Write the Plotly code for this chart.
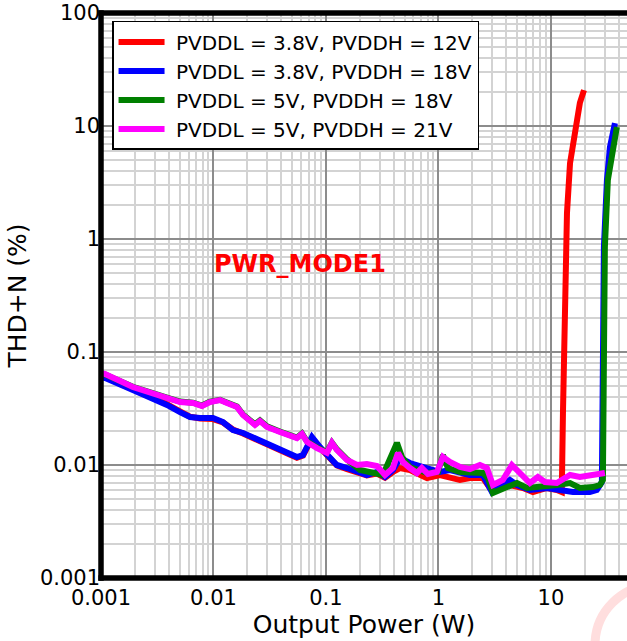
import math
import plotly.graph_objects as go

# ---------------- data (Output Power in W, THD+N in %) ----------------
red_p = [0.001, 0.00109, 0.00192, 0.0029, 0.00386, 0.00504, 0.00618, 0.00759, 0.0099, 0.01215,
         0.0149, 0.0183, 0.0275, 0.039, 0.0552, 0.0625, 0.0751, 0.0885, 0.102, 0.125,
         0.154, 0.189, 0.231, 0.284, 0.335, 0.394, 0.455, 0.558, 0.791, 1.031,
         1.265, 1.553, 1.905, 2.487, 2.87, 3.52, 4.32, 5.64, 6.92, 9.21,
         11.3, 12.5, 12.8, 13.3, 13.9, 14.8, 16.3, 18.1, 19.7]
red_thd = [0.0612, 0.0598, 0.0468, 0.0396, 0.0345, 0.0298, 0.0268, 0.0258, 0.0255, 0.0238,
           0.0206, 0.0190, 0.0158, 0.0134, 0.0116, 0.0121, 0.0172, 0.0142, 0.0121, 0.0099,
           0.0092, 0.0086, 0.0081, 0.0084, 0.0077, 0.00867, 0.0094, 0.00903, 0.00767, 0.00815,
           0.00783, 0.00736, 0.00767, 0.00767, 0.00626, 0.00626, 0.00665, 0.00626, 0.00577, 0.00626,
           0.00601, 0.00577, 0.0288, 0.221, 1.70, 4.7, 9.2, 16.0, 20.8]

blue_p = [0.001, 0.00109, 0.00192, 0.0029, 0.00386, 0.00504, 0.00618, 0.00759, 0.0099, 0.01215,
          0.0149, 0.0183, 0.0275, 0.039, 0.0552, 0.0625, 0.0751, 0.0885, 0.102, 0.125,
          0.154, 0.189, 0.231, 0.284, 0.335, 0.394, 0.455, 0.558, 0.791, 1.031,
          1.265, 1.905, 2.487, 2.99, 3.52, 4.32, 4.99, 6.51, 9.21, 12.0,
          15.7, 22.2, 25.6, 28.4, 29.0, 29.6, 31.5, 33.5, 37.1]
blue_thd = [0.060, 0.0589, 0.0461, 0.0392, 0.034, 0.0294, 0.0266, 0.0261, 0.0261, 0.024,
            0.0204, 0.0192, 0.016, 0.0136, 0.01177, 0.01226, 0.0177, 0.0144, 0.01226, 0.010,
            0.0094, 0.00867, 0.00815, 0.00867, 0.00783, 0.00903, 0.01153, 0.01041, 0.0094, 0.00867,
            0.00903, 0.00815, 0.00815, 0.00577, 0.00638, 0.00736, 0.00665, 0.00601, 0.00626, 0.00601,
            0.00577, 0.00577, 0.00601, 0.00707, 0.111, 0.85, 3.33, 6.5, 10.6]

green_p = [0.001, 0.00109, 0.00192, 0.00273, 0.00386, 0.00504, 0.00657, 0.0079, 0.0093, 0.01143,
           0.0132, 0.01618, 0.0183, 0.0234, 0.0259, 0.0299, 0.039, 0.0552, 0.0612, 0.0678,
           0.0832, 0.102, 0.113, 0.125, 0.154, 0.2006, 0.321, 0.428, 0.474, 0.558,
           0.791, 0.99, 1.096, 1.214, 1.553, 2.026, 2.487, 2.754, 3.05, 3.52,
           4.06, 4.99, 6.12, 7.98, 11.3, 14.8, 18.1, 23.6, 27.3, 29.0,
           29.3, 30.2, 32.1, 35.6, 38.6]
green_thd = [0.0645, 0.0632, 0.0492, 0.0447, 0.0395, 0.0364, 0.0356, 0.0336, 0.0364, 0.0378,
             0.0357, 0.0329, 0.0280, 0.0229, 0.0248, 0.0220, 0.0198, 0.0175, 0.0190, 0.0162,
             0.0143, 0.0130, 0.0158, 0.0138, 0.0112, 0.00903, 0.00815, 0.0157, 0.01177, 0.0096,
             0.0085, 0.00867, 0.01226, 0.0094, 0.00867, 0.0085, 0.0085, 0.00767, 0.00565, 0.00601,
             0.00638, 0.00693, 0.00626, 0.00638, 0.00665, 0.00693, 0.00626, 0.00638, 0.00665, 0.00736,
             0.111, 0.85, 3.33, 6.5, 9.8]

magenta_p = [0.001, 0.00109, 0.00192, 0.00273, 0.00386, 0.00504, 0.00657, 0.0079, 0.0093, 0.01143,
             0.0132, 0.01618, 0.0183, 0.0234, 0.0259, 0.0299, 0.039, 0.0552, 0.0612, 0.0678,
             0.0832, 0.102, 0.113, 0.125, 0.154, 0.189, 0.231, 0.284, 0.335, 0.394,
             0.437, 0.484, 0.558, 0.644, 0.713, 0.807, 0.97, 1.096, 1.265, 1.553,
             1.905, 2.338, 2.698, 3.05, 3.31, 3.74, 4.5, 5.3, 6.51, 7.66,
             8.85, 11.3, 12.8, 14.8, 18.1, 22.2, 30.2]
magenta_thd = [0.0652, 0.0638, 0.049, 0.0443, 0.0392, 0.0361, 0.0354, 0.0333, 0.0361, 0.0376,
               0.0354, 0.0326, 0.0277, 0.0226, 0.0245, 0.0217, 0.0196, 0.0173, 0.0188, 0.016,
               0.0141, 0.0128, 0.0157, 0.0136, 0.01107, 0.010, 0.0102, 0.0098, 0.00815, 0.0094,
               0.0128, 0.01063, 0.0094, 0.0085, 0.0094, 0.00832, 0.00867, 0.01177, 0.01063, 0.0096,
               0.0092, 0.010, 0.0094, 0.00665, 0.00693, 0.00736, 0.010, 0.0085, 0.00693, 0.00783,
               0.00707, 0.00693, 0.00736, 0.00815, 0.00783, 0.00815, 0.0085]

series_names = ["PVDDL = 3.8V, PVDDH = 12V", "PVDDL = 3.8V, PVDDH = 18V",
                "PVDDL = 5V, PVDDH = 18V", "PVDDL = 5V, PVDDH = 21V"]
series_colors = ["#ff0000", "#0000ff", "#008000", "#ff00ff"]

x_tick_vals = [0.001, 0.01, 0.1, 1, 10]
x_tick_text = ["0.001", "0.01", "0.1", "1", "10"]
y_tick_vals = [0.001, 0.01, 0.1, 1, 10, 100]
y_tick_text = ["0.001", "0.01", "0.1", "1", "10", "100"]

x_range = [0.001, 47.5]
y_range = [0.001, 100]

mode_label = "PWR_MODE1"
mode_label_pos = (0.0588, 0.6)

# ---------------- figure ----------------
FONT = "DejaVu Sans"
fig = go.Figure()
all_data = [(red_p, red_thd), (blue_p, blue_thd), (green_p, green_thd), (magenta_p, magenta_thd)]
for i, ((px, py), name, col) in enumerate(zip(all_data, series_names, series_colors)):
    fig.add_trace(go.Scatter(x=px, y=py, mode="lines", name="\u00a0" + name, legendgroup="g%d" % i,
                             line=dict(color=col, width=6)))

axis_common = dict(
    type="log",
    showgrid=True, gridcolor="#8c8c8c", gridwidth=1.5,
    tickmode="array",
    ticks="", showline=False, zeroline=False,
    tickfont=dict(family=FONT, size=21, color="black"),
    minor=dict(dtick="D1", showgrid=True, gridcolor="#d3d3d3", gridwidth=1.5, ticks=""),
)

fig.update_layout(
    width=627, height=641,
    margin=dict(l=101, r=0, t=13, b=63),
    paper_bgcolor="white", plot_bgcolor="white",
    font=dict(family=FONT, color="black"),
    xaxis=dict(axis_common, range=[math.log10(v) for v in x_range],
               tickvals=x_tick_vals, ticktext=x_tick_text, ticklabelstandoff=5,
               title=dict(text="Output Power (W)", font=dict(family=FONT, size=25), standoff=4)),
    yaxis=dict(axis_common, range=[math.log10(v) for v in y_range],
               tickvals=y_tick_vals, ticktext=y_tick_text,
               title=dict(text="THD+N (%)", font=dict(family=FONT, size=25), standoff=6)),
    legend=dict(x=0.021, y=0.986, xanchor="left", yanchor="top",
                bgcolor="white", bordercolor="black", borderwidth=1.5,
                font=dict(family=FONT, size=20, color="black"),
                tracegroupgap=0, itemwidth=46),
    showlegend=True,
)

fig.add_annotation(x=math.log10(mode_label_pos[0]), y=math.log10(mode_label_pos[1]),
                   xref="x", yref="y", text="<b>" + mode_label + "</b>", showarrow=False,
                   font=dict(family=FONT, size=24, color="#ff0000"))

# spines (left, top, bottom) drawn over the data like the original
spine = dict(color="black", width=5.5)
fig.add_shape(type="line", xref="paper", yref="paper", x0=0, x1=0, y0=-0.005, y1=1.005, line=spine, layer="above")
fig.add_shape(type="line", xref="paper", yref="paper", x0=-0.005, x1=1, y0=1, y1=1, line=spine, layer="above")
fig.add_shape(type="line", xref="paper", yref="paper", x0=-0.005, x1=1, y0=0, y1=0, line=spine, layer="above")

# faint watermark ring in the bottom-right corner
fig.add_shape(type="circle", xref="paper", yref="paper", x0=0.9392, x1=1.1673, y0=-0.0124, y1=-0.2248,
              line=dict(color="#ffdede", width=9), layer="below")

fig.write_html("out.html")
